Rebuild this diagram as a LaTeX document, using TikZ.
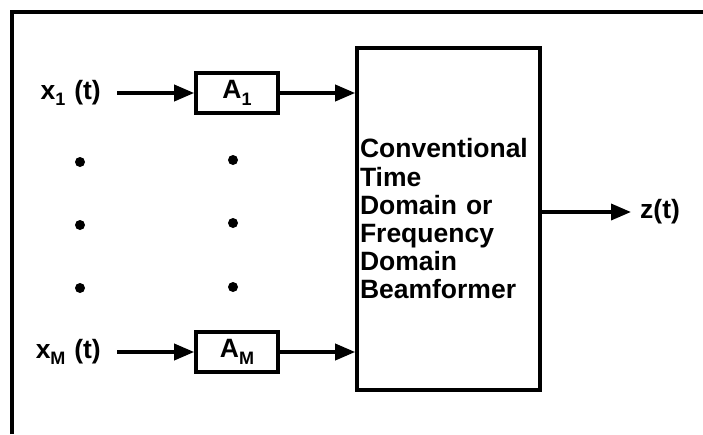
\documentclass[tikz,border=0pt]{standalone}
\usepackage{fontspec}
\setmainfont{Liberation Sans}
\usetikzlibrary{arrows.meta,calc}
\newcommand{\sbs}[1]{\raisebox{-0.45ex}{\fontsize{18}{18}\selectfont #1}}
\tikzset{
  lbl/.style={font=\fontsize{26.5}{28}\selectfont\bfseries, inner sep=0pt},
  gainbox/.style={draw, line width=3.6pt, minimum width=82pt, minimum height=40pt,
    inner sep=0pt, font=\fontsize{26.5}{28}\selectfont\bfseries},
  sig/.style={line width=3.6pt, -{Triangle[length=20pt,width=16pt]}},
  dotmark/.style={circle, fill=black, inner sep=0pt, minimum size=10pt}
}
\begin{document}
\begin{tikzpicture}[x=1pt,y=-1pt]
  \useasboundingbox (0,0) rectangle (703,434);
  % open frame: top and left edges only
  \draw[line width=4pt] (12,434) -- (12,12) -- (703,12);

  % beamformer block
  \node[draw, line width=3.6pt, minimum width=183pt, minimum height=342pt,
        text width=177pt, align=left, inner xsep=3pt, inner ysep=0pt,
        font=\fontsize{26.5}{28.2}\selectfont\bfseries]
    (bf) at (448.5,219) {Conventional\\Time\\Domain or\\Frequency\\Domain\\Beamformer};

  % gain blocks
  \node[gainbox] (a1) at (237,93) {A\sbs{1}};
  \node[gainbox] (am) at (237,352) {A\sbs{M}};

  % input labels
  \node[lbl, anchor=east] (x1) at (101,93) {x\sbs{1}\,\,(t)};
  \node[lbl, anchor=east] (xm) at (101,352) {x\sbs{M}\,\,(t)};

  % output label
  \node[lbl, anchor=west] (z) at (640,212) {z(t)};

  % signal paths
  \draw[sig] ([xshift=16pt]x1.east) -- (a1.west);
  \draw[sig] (a1.east) -- (a1.east -| bf.west);
  \draw[sig] ([xshift=16pt]xm.east) -- (am.west);
  \draw[sig] (am.east) -- (am.east -| bf.west);
  \draw[sig] (bf.east |- z.west) -- ([xshift=-9pt]z.west);

  % ellipsis dots between the channels
  \node[dotmark] (d1) at (80,162) {};
  \node[dotmark] (d2) at (80,225) {};
  \node[dotmark] (d3) at (80,288) {};
  \node[dotmark] (e1) at (233,160) {};
  \node[dotmark] (e2) at (233,223) {};
  \node[dotmark] (e3) at (233,287) {};
\end{tikzpicture}
\end{document}
